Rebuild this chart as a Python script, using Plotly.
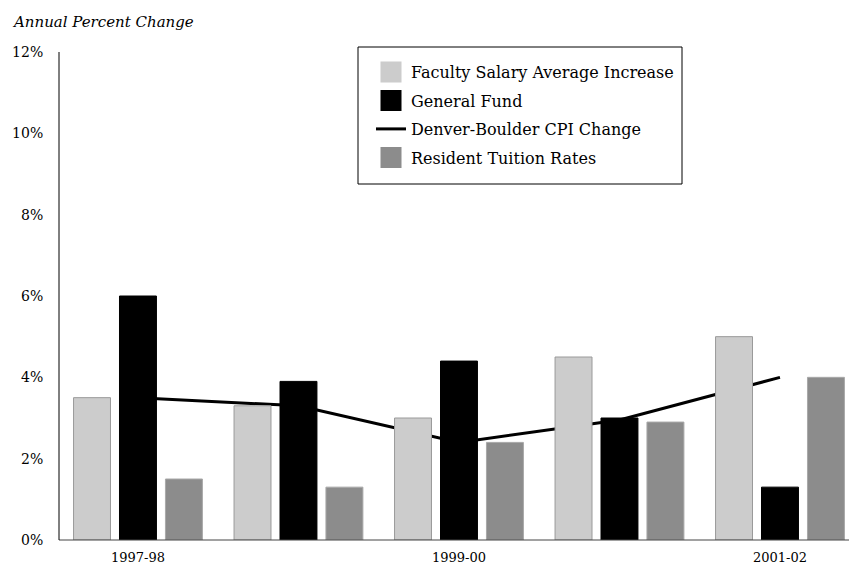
import plotly.graph_objects as go

# ---- data ----
years = ["1997-98", "1998-99", "1999-00", "2000-01", "2001-02"]
tick_years = ["1997-98", "1999-00", "2001-02"]
faculty_salary = [3.5, 3.3, 3.0, 4.5, 5.0]
general_fund = [6.0, 3.9, 4.4, 3.0, 1.3]
cpi_change = [3.5, 3.3, 2.4, 2.95, 4.0]
tuition_rates = [1.5, 1.3, 2.4, 2.9, 4.0]
y_ticks = [0, 2, 4, 6, 8, 10, 12]
y_tick_labels = [f"{v}%" for v in y_ticks]

names = ["Faculty Salary Average Increase", "General Fund",
         "Denver-Boulder CPI Change", "Resident Tuition Rates"]

LIGHT, BLACK, GRAY = "#cccccc", "#000000", "#8c8c8c"
FONT = "DejaVu Serif"

# plot-area geometry in pixels
W, H = 849, 565
L, R, T, B = 59, 0, 52, 25
PW, PH = W - L - R, H - T - B


def px(x):
    return (x - L) / PW


def py(y):
    return (H - B - y) / PH


fig = go.Figure()

# bars (drawn above the CPI line)
for vals, col, edge in [(faculty_salary, LIGHT, "#9a9a9a"),
                        (general_fund, BLACK, "#000000"),
                        (tuition_rates, GRAY, "#a8a8a8")]:
    fig.add_trace(go.Bar(x=years, y=vals, marker=dict(color=col, line=dict(color=edge, width=1)),
                         showlegend=False, zorder=1, hoverinfo="skip"))

# CPI line
fig.add_trace(go.Scatter(x=years, y=cpi_change, mode="lines", name=names[2],
                         line=dict(color="black", width=3), zorder=0,
                         legendrank=3, legendgroup="c"))

# legend proxies for bars
for name, col, rank, grp in [(names[0], LIGHT, 1, "a"),
                             (names[1], BLACK, 2, "b"),
                             (names[3], GRAY, 4, "d")]:
    fig.add_trace(go.Scatter(x=[None], y=[None], mode="markers", name=name,
                             marker=dict(symbol="square", size=16, color=col,
                                         line=dict(color=col, width=5)),
                             legendrank=rank, legendgroup=grp))

fig.update_layout(
    width=W, height=H,
    margin=dict(l=L, r=R, t=T, b=B),
    paper_bgcolor="white", plot_bgcolor="rgba(0,0,0,0)",
    barmode="group", bargap=0.141, bargroupgap=0.196,
    font=dict(family=FONT, color="black"),
    legend=dict(x=px(371), y=py(55), xanchor="left", yanchor="top",
                bgcolor="rgba(0,0,0,0)", borderwidth=0,
                font=dict(family=FONT, size=16), tracegroupgap=4.7,
                itemsizing="trace"),
    shapes=[
        # legend frame
        dict(type="rect", xref="paper", yref="paper",
             x0=px(358), x1=px(682), y0=py(184), y1=py(47),
             line=dict(color="black", width=1), fillcolor="white", layer="above"),
        # axis lines
        dict(type="line", xref="paper", yref="paper", x0=0, x1=1, y0=0, y1=0,
             line=dict(color="#444444", width=1), layer="above"),
        dict(type="line", xref="paper", yref="paper", x0=0, x1=0, y0=0, y1=1,
             line=dict(color="black", width=1), layer="above"),
    ],
    annotations=[dict(text="<i>Annual Percent Change</i>", x=px(10), y=py(22),
                      xref="paper", yref="paper", showarrow=False,
                      font=dict(family=FONT, size=15), xanchor="left", yanchor="middle")],
)

fig.update_xaxes(type="category", range=[-0.492, 4.43],
                 tickvals=tick_years, ticktext=tick_years,
                 showline=True, linecolor="#444444", linewidth=1,
                 showgrid=False, ticks="", tickfont=dict(size=13),
                 ticklabelstandoff=5, automargin=False)
fig.update_yaxes(range=[0, 12], tickvals=y_ticks, ticktext=y_tick_labels,
                 showline=True, linecolor="black", linewidth=1,
                 showgrid=False, zeroline=False, ticks="",
                 tickfont=dict(size=14), ticklabelstandoff=12,
                 automargin=False)

fig.write_html("out.html", config={"displayModeBar": False},
               post_script="document.body.style.margin='0';")
